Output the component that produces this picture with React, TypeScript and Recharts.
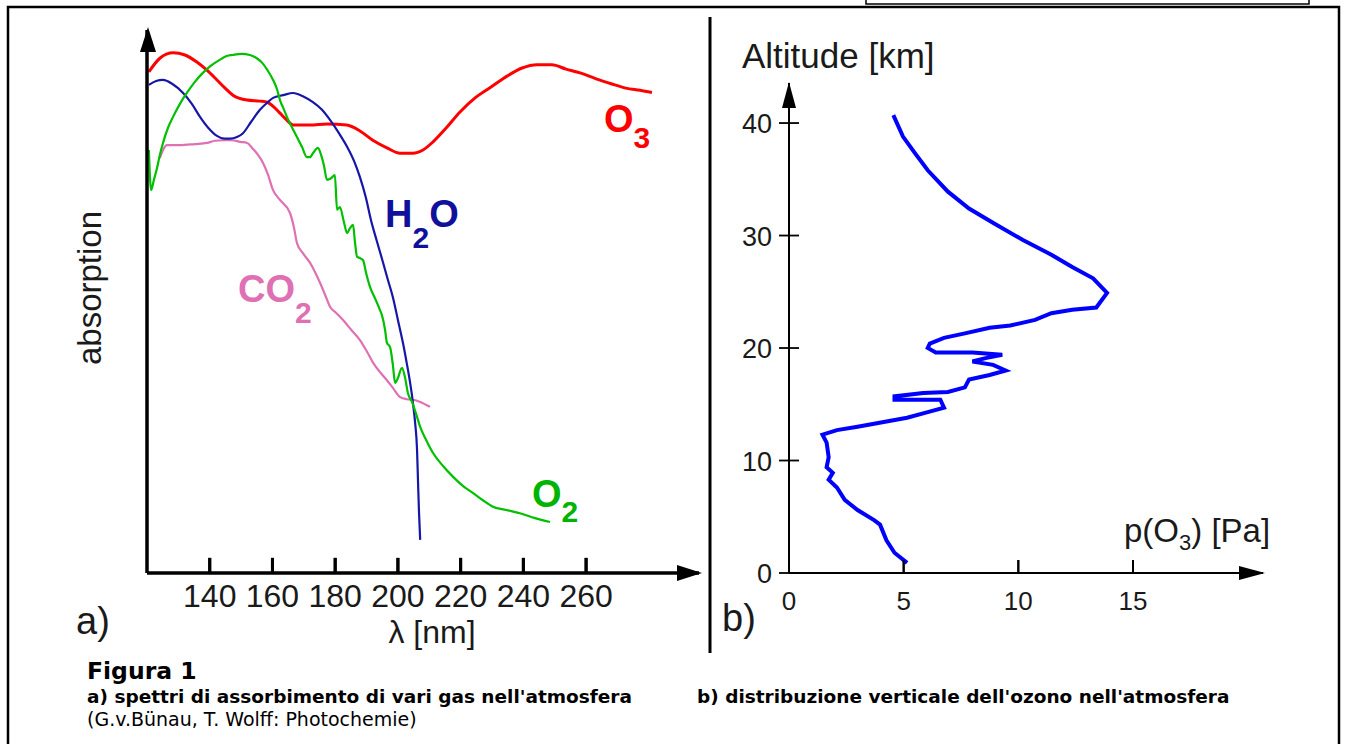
import { LineChart, Line, XAxis, YAxis, ReferenceLine } from 'recharts'

// absorption spectra (arbitrary units 0..100), wavelength in nm
const o3Nm = [120.6, 124.1, 128.3, 132.1, 135.9, 139.1, 142.3, 144.9, 147.4, 151.9, 156.0, 158.3, 160.5, 162.4, 164.6, 166.6, 172.0, 177.4, 183.7, 187.9, 192.0, 196.5, 200.7, 204.8, 208.0, 211.2, 215.3, 219.8, 224.6, 229.7, 234.8, 239.6, 244.4, 249.1, 253.6, 258.1, 263.2, 268.0, 272.7, 277.2, 281.0]
const o3Abs = [92.3, 94.8, 95.8, 95.4, 94.1, 92.6, 90.8, 89.3, 88.0, 87.1, 86.9, 86.7, 85.8, 84.7, 83.4, 82.5, 82.5, 82.7, 82.5, 81.4, 79.7, 78.3, 77.3, 77.3, 77.9, 79.4, 81.9, 84.9, 87.5, 89.5, 91.5, 93.0, 93.6, 93.6, 92.8, 92.1, 91.0, 90.1, 89.3, 88.9, 88.5]

const h2oNm = [120.6, 122.9, 125.1, 128.0, 131.5, 134.3, 136.9, 139.5, 142.3, 144.6, 146.5, 148.7, 150.6, 153.2, 156.0, 158.3, 160.2, 163.4, 166.6, 169.7, 172.9, 175.8, 178.4, 181.2, 183.8, 186.0, 187.9, 189.8, 191.4, 193.3, 195.3, 196.8, 198.4, 200.0, 201.6, 202.8, 203.9, 204.8, 205.5, 206.1, 206.4, 206.7, 207.1]
const h2oAbs = [89.9, 90.6, 90.8, 90.1, 88.4, 86.4, 84.0, 82.0, 80.5, 80.0, 80.0, 80.3, 81.0, 83.1, 85.3, 86.6, 87.5, 88.0, 88.4, 87.8, 86.7, 85.3, 83.4, 81.0, 78.5, 75.9, 72.9, 69.1, 65.0, 61.1, 57.1, 54.0, 50.8, 46.6, 42.4, 38.7, 35.0, 31.3, 27.6, 22.7, 17.1, 11.6, 6.1]

const o2Nm = [120.6, 121.3, 122.2, 123.2, 124.1, 125.1, 126.7, 128.3, 130.5, 132.7, 135.2, 137.8, 140.3, 143.2, 145.4, 147.3, 150.1, 152.8, 155.0, 156.8, 158.4, 160.2, 161.5, 162.4, 163.7, 164.6, 166.2, 167.8, 169.4, 171.0, 172.0, 172.9, 174.5, 175.5, 176.4, 177.4, 178.7, 179.9, 180.6, 181.5, 182.8, 183.8, 184.7, 185.7, 186.3, 187.0, 187.9, 188.9, 189.8, 191.1, 192.7, 194.3, 194.9, 195.9, 196.5, 197.5, 198.4, 199.1, 200.0, 201.3, 202.3, 203.2, 204.5, 205.8, 207.1, 209.0, 211.2, 214.4, 217.6, 220.8, 224.0, 227.1, 230.3, 234.5, 238.9, 243.7, 248.5]
const o2Abs = [77.9, 70.5, 72.4, 74.6, 77.0, 79.2, 82.0, 84.0, 86.4, 88.4, 90.4, 92.1, 93.4, 94.5, 95.2, 95.4, 95.6, 95.4, 94.8, 93.9, 92.6, 90.8, 89.0, 87.1, 85.3, 84.0, 82.1, 80.3, 78.5, 76.6, 76.6, 77.3, 78.3, 77.0, 75.1, 72.4, 72.7, 73.3, 66.9, 67.4, 64.6, 62.6, 63.5, 64.1, 61.0, 58.2, 58.0, 57.6, 55.4, 52.7, 50.6, 48.4, 47.5, 44.8, 42.4, 41.6, 38.3, 35.0, 35.9, 37.8, 35.9, 33.1, 31.5, 29.3, 26.9, 24.5, 22.1, 19.7, 17.7, 16.0, 14.7, 13.4, 12.2, 11.6, 11.0, 10.1, 9.4]

const co2Nm = [124.1, 125.1, 126.4, 130.5, 135.3, 139.1, 141.7, 144.2, 147.1, 149.7, 151.9, 153.8, 155.4, 157.0, 158.6, 160.2, 162.4, 165.6, 166.9, 167.8, 169.7, 172.0, 173.6, 175.2, 176.8, 178.4, 180.3, 182.5, 185.1, 187.9, 190.2, 192.1, 194.3, 196.5, 198.4, 200.7, 202.9, 204.8, 207.1, 210.2]
const co2Abs = [76.4, 77.9, 78.8, 78.8, 79.0, 79.2, 79.6, 79.7, 79.7, 79.4, 79.2, 78.1, 77.0, 75.5, 73.3, 70.5, 68.7, 66.3, 63.5, 60.8, 58.9, 57.1, 55.4, 53.4, 51.2, 49.0, 47.9, 46.6, 44.8, 42.9, 40.7, 38.7, 37.0, 35.5, 34.1, 32.4, 32.0, 31.9, 31.5, 30.6]

const lambdaTicks = [140, 160, 180, 200, 220, 240, 260]

// vertical ozone profile: partial pressure [Pa] vs altitude [km]
const ozoneP = [4.55, 4.97, 5.5, 6.05, 6.93, 7.85, 8.93, 10.2, 11.44, 12.35, 13.26, 13.87, 13.4, 12.35, 11.44, 10.73, 9.65, 8.75, 7.67, 6.76, 6.14, 6.05, 6.4, 7.31, 8.0, 9.3, 8.57, 8.0, 8.9, 9.45, 8.75, 7.85, 7.67, 6.93, 5.85, 4.6, 4.6, 6.6, 6.76, 6.05, 5.15, 4.07, 2.99, 2.09, 1.46, 1.64, 1.73, 1.64, 1.91, 1.73, 2.09, 2.43, 2.99, 3.71, 3.97, 4.25, 4.6, 5.15]
const ozoneAlt = [40.7, 38.8, 37.3, 35.8, 33.9, 32.4, 31.1, 29.6, 28.3, 27.2, 26.2, 24.9, 23.6, 23.4, 23.1, 22.5, 22.0, 21.8, 21.3, 20.9, 20.4, 20.0, 19.6, 19.6, 19.6, 19.4, 19.1, 18.8, 18.5, 18.0, 17.6, 17.2, 16.5, 16.1, 16.0, 15.7, 15.4, 15.4, 14.7, 14.3, 13.8, 13.4, 13.0, 12.7, 12.3, 11.6, 10.3, 9.4, 8.9, 8.3, 7.6, 6.5, 5.6, 4.7, 4.3, 2.9, 1.8, 0.9]

const altTicks = [0, 10, 20, 30, 40]
const pressureTicks = [0, 5, 10, 15]

const pair = (xs: number[], ys: number[]) => xs.map((nm, i) => ({ nm, v: ys[i] }))
const o3Data = pair(o3Nm, o3Abs)
const h2oData = pair(h2oNm, h2oAbs)
const o2Data = pair(o2Nm, o2Abs)
const co2Data = pair(co2Nm, co2Abs)
const ozoneData = ozoneP.map((p, i) => ({ p, alt: ozoneAlt[i] }))

const SANS = "'Liberation Sans', Arial, sans-serif"
const CAPTION = "'DejaVu Sans', Verdana, sans-serif"
const INK = '#1a1a1a'

// bottom-axis ticks point inward (up) with the label underneath
const LambdaTick = (props: any) => {
  const { x, y, payload } = props
  return (
    <g>
      <line x1={x} y1={y} x2={x} y2={y - 15} stroke="#000" strokeWidth={3} />
      <text x={x} y={y + 34} textAnchor="middle" fontSize={32} fontFamily={SANS} fill={INK}>
        {payload.value}
      </text>
    </g>
  )
}

const PressureTick = (props: any) => {
  const { x, y, payload } = props
  return (
    <g>
      {payload.value !== 0 && <line x1={x} y1={y} x2={x} y2={y - 13} stroke="#000" strokeWidth={2} />}
      <text x={x} y={y + 37} textAnchor="middle" fontSize={26} fontFamily={SANS} fill={INK}>
        {payload.value}
      </text>
    </g>
  )
}

const AltTick = (props: any) => {
  const { x, y, payload } = props
  return (
    <g>
      <line x1={x - 10} y1={y} x2={x + 10} y2={y} stroke="#000" strokeWidth={1.8} />
      <text x={x - 17} y={y + 10} textAnchor="end" fontSize={27} fontFamily={SANS} fill={INK}>
        {payload.value}
      </text>
    </g>
  )
}

function Spectra() {
  return (
    <LineChart width={720} height={700} margin={{ top: 30, right: 21, bottom: 87, left: 146 }}>
      <XAxis
        type="number"
        dataKey="nm"
        domain={[120, 296]}
        ticks={lambdaTicks}
        interval={0}
        height={40}
        tickSize={0}
        tickMargin={0}
        tick={<LambdaTick />}
        axisLine={{ stroke: '#000', strokeWidth: 3.5 }}
        allowDataOverflow
      />
      <YAxis type="number" domain={[0, 100]} width={1} tick={false} tickLine={false} axisLine={{ stroke: '#000', strokeWidth: 3.5 }} />
      {lambdaTicks.map((t) => (
        <ReferenceLine key={t} segment={[{ x: t, y: 0 }, { x: t, y: 2.8 }]} stroke="#000" strokeWidth={3} ifOverflow="visible" />
      ))}
      <Line data={co2Data} dataKey="v" type="monotone" stroke="#e070b4" strokeWidth={2.2} dot={false} activeDot={false} isAnimationActive={false} />
      <Line data={o3Data} dataKey="v" type="monotone" stroke="#ff0000" strokeWidth={3} dot={false} activeDot={false} isAnimationActive={false} />
      <Line data={h2oData} dataKey="v" type="monotone" stroke="#1616a8" strokeWidth={2.2} dot={false} activeDot={false} isAnimationActive={false} />
      <Line data={o2Data} dataKey="v" type="monotone" stroke="#00c000" strokeWidth={2.2} dot={false} activeDot={false} isAnimationActive={false} />
    </LineChart>
  )
}

function OzoneProfile() {
  return (
    <LineChart layout="vertical" width={646} height={700} data={ozoneData} margin={{ top: 83, right: 83, bottom: 87, left: 88 }}>
      <XAxis
        type="number"
        dataKey="p"
        domain={[0, 20.67]}
        ticks={pressureTicks}
        interval={0}
        height={40}
        tickSize={0}
        tickMargin={0}
        tick={<PressureTick />}
        axisLine={{ stroke: '#000', strokeWidth: 2 }}
      />
      <YAxis
        type="number"
        dataKey="alt"
        domain={[0, 43.56]}
        reversed
        ticks={altTicks}
        interval={0}
        width={1}
        tickSize={0}
        tickMargin={0}
        tick={<AltTick />}
        axisLine={{ stroke: '#000', strokeWidth: 2 }}
      />
      {pressureTicks.filter((t) => t > 0).map((t) => (
        <ReferenceLine key={t} segment={[{ x: t, y: 0 }, { x: t, y: 1.15 }]} stroke="#000" strokeWidth={2} ifOverflow="visible" />
      ))}
      <Line dataKey="p" type="linear" stroke="#0000ff" strokeWidth={4} dot={false} activeDot={false} isAnimationActive={false} />
    </LineChart>
  )
}

export default function App() {
  return (
    <div style={{ position: 'absolute', left: 0, top: 0, width: 1346, height: 744, background: '#fff', overflow: 'hidden' }}>
      <div style={{ position: 'absolute', left: 0, top: 0 }}>
        <Spectra />
      </div>
      <div style={{ position: 'absolute', left: 700, top: 0 }}>
        <OzoneProfile />
      </div>
      <svg width={1346} height={744} style={{ position: 'absolute', left: 0, top: 0, pointerEvents: 'none' }}>
        {/* frame, box and divider */}
        <polyline points="8,760 8,7 1339,7 1339,760" fill="none" stroke="#000" strokeWidth={2.5} />
        <rect x={866} y={-4} width={443} height={8} fill="#fff" stroke="#000" strokeWidth={1.5} />
        <line x1={710} y1={17} x2={710} y2={653} stroke="#000" strokeWidth={3} />

        {/* axis arrows */}
        <polygon points="148,27 140,52 156,52" fill="#000" />
        <polygon points="702,573 677,565 677,581" fill="#000" />
        <polygon points="789,82 782,108 796,108" fill="#000" />
        <polygon points="1265,573 1239,566 1239,580" fill="#000" />

        {/* left panel texts */}
        <text transform="translate(101,288) rotate(-90)" textAnchor="middle" fontSize={33} fontFamily={SANS} fill={INK}>
          absorption
        </text>
        <text x={432} y={643} textAnchor="middle" fontSize={32} fontFamily={SANS} fill={INK}>
          λ [nm]
        </text>
        <text x={76} y={634} fontSize={38} fontFamily={SANS} fill={INK}>
          a)
        </text>
        <g fontFamily={SANS} fontWeight="bold" fontSize={38}>
          <text x={604} y={132} fill="#ff0000">
            O<tspan fontSize={30} dy={16}>3</tspan>
          </text>
          <text x={385} y={227} fill="#10109c">
            H<tspan fontSize={30} dy={21}>2</tspan>
            <tspan dy={-21}>O</tspan>
          </text>
          <text x={238} y={302} fill="#e070b4">
            CO<tspan fontSize={30} dy={21}>2</tspan>
          </text>
          <text x={532} y={507} fill="#00b400">
            O<tspan fontSize={30} dy={15}>2</tspan>
          </text>
        </g>

        {/* right panel texts */}
        <text x={742} y={68} fontSize={35} fontFamily={SANS} fill={INK}>
          Altitude [km]
        </text>
        <text x={1124} y={542} fontSize={33} fontFamily={SANS} fill={INK}>
          p(O<tspan fontSize={22} dy={8}>3</tspan>
          <tspan dy={-8}>) [Pa]</tspan>
        </text>
        <text x={722} y={631} fontSize={38} fontFamily={SANS} fill={INK}>
          b)
        </text>

        {/* caption */}
        <text x={87} y={679} fontSize={23.5} fontWeight="bold" fontFamily={CAPTION} fill="#000">
          Figura 1
        </text>
        <text x={87} y={703} fontSize={18.5} fontWeight="bold" fontFamily={CAPTION} fill="#000">
          a) spettri di assorbimento di vari gas nell'atmosfera
        </text>
        <text x={697} y={703} fontSize={18.5} fontWeight="bold" fontFamily={CAPTION} fill="#000">
          b) distribuzione verticale dell'ozono nell'atmosfera
        </text>
        <text x={87} y={726} fontSize={19} fontFamily={CAPTION} fill="#000">
          (G.v.Bünau, T. Wolff: Photochemie)
        </text>
      </svg>
    </div>
  )
}
